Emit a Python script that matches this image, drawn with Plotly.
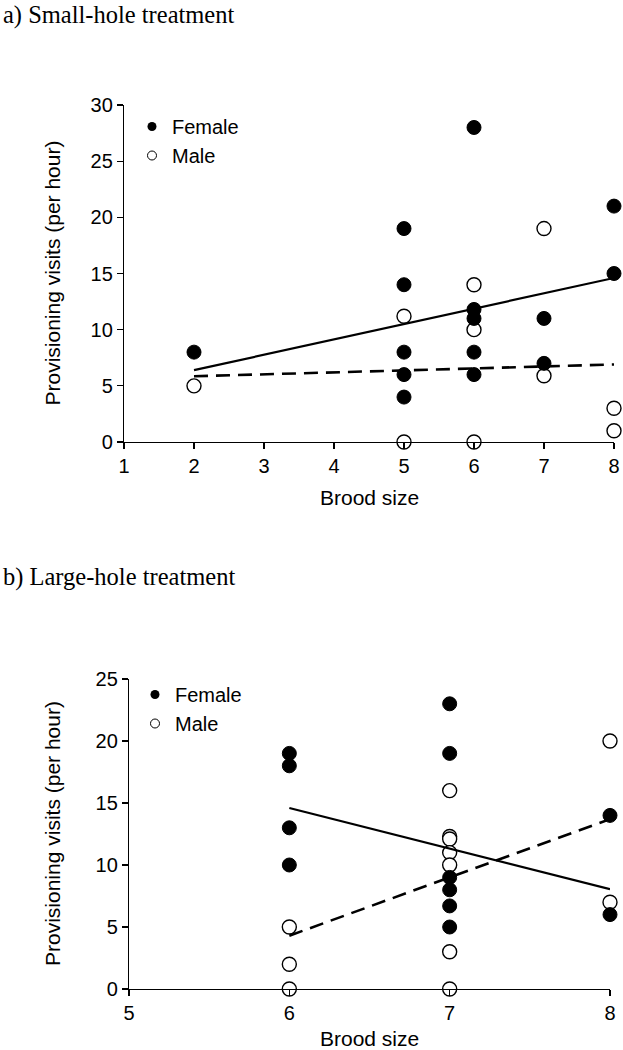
import plotly.graph_objects as go

W, H = 623, 1050

# ---------- Panel a: small-hole treatment ----------
a_female_x = [2, 5, 5, 5, 5, 5, 6, 6, 6, 6, 6, 7, 7, 8, 8]
a_female_y = [8, 19, 14, 8, 6, 4, 28, 11.8, 11, 8, 6, 11, 7, 21, 15]
a_male_x = [2, 5, 5, 6, 6, 6, 7, 7, 8, 8]
a_male_y = [5, 11.2, 0, 14, 10, 0, 19, 5.9, 3, 1]
a_female_fit_x = [2, 8]
a_female_fit_y = [6.4, 14.6]
a_male_fit_x = [2, 8]
a_male_fit_y = [5.85, 6.9]

# ---------- Panel b: large-hole treatment ----------
b_female_x = [6, 6, 6, 6, 7, 7, 7, 7, 7, 7, 8, 8]
b_female_y = [19, 18, 13, 10, 23, 19, 9, 8, 6.7, 5, 14, 6]
b_male_x = [6, 6, 6, 7, 7, 7, 7, 7, 7, 7, 8, 8]
b_male_y = [5, 2, 0, 16, 12.3, 12.1, 11, 10, 3, 0, 20, 7]
b_female_fit_x = [6, 8]
b_female_fit_y = [14.6, 8.05]
b_male_fit_x = [6, 8]
b_male_fit_y = [4.3, 13.7]

panel_titles = ["a) Small-hole treatment", "b) Large-hole treatment"]
y_title = "Provisioning visits (per hour)"
x_title = "Brood size"

SANS = "Arial, Liberation Sans, sans-serif"
SERIF = "Times New Roman, Liberation Serif, serif"
MS = 14

def px_x(p):
    return p / W

def px_y(p):
    return 1 - p / H

fig = go.Figure()

panels = [
    dict(fx=a_female_x, fy=a_female_y, mx=a_male_x, my=a_male_y,
         ffx=a_female_fit_x, ffy=a_female_fit_y, mfx=a_male_fit_x, mfy=a_male_fit_y,
         xa="x", ya="y", legend="legend"),
    dict(fx=b_female_x, fy=b_female_y, mx=b_male_x, my=b_male_y,
         ffx=b_female_fit_x, ffy=b_female_fit_y, mfx=b_male_fit_x, mfy=b_male_fit_y,
         xa="x2", ya="y2", legend="legend2"),
]

for p in panels:
    fig.add_trace(go.Scatter(x=p["mx"], y=p["my"], mode="markers", xaxis=p["xa"], yaxis=p["ya"],
                             marker=dict(size=MS, color="white", line=dict(color="black", width=1.4)),
                             showlegend=False, cliponaxis=False))
    fig.add_trace(go.Scatter(x=p["fx"], y=p["fy"], mode="markers", xaxis=p["xa"], yaxis=p["ya"],
                             marker=dict(size=MS, color="black", line=dict(color="black", width=1)),
                             showlegend=False, cliponaxis=False))
    fig.add_trace(go.Scatter(x=p["ffx"], y=p["ffy"], mode="lines", xaxis=p["xa"], yaxis=p["ya"],
                             line=dict(color="black", width=2.2), showlegend=False, cliponaxis=False))
    fig.add_trace(go.Scatter(x=p["mfx"], y=p["mfy"], mode="lines", xaxis=p["xa"], yaxis=p["ya"],
                             line=dict(color="black", width=2.6, dash="14px,8px"),
                             showlegend=False, cliponaxis=False))
    # legend entries
    fig.add_trace(go.Scatter(x=[None], y=[None], mode="markers", name="Female", xaxis=p["xa"], yaxis=p["ya"],
                             marker=dict(size=9, color="black"), legend=p["legend"]))
    fig.add_trace(go.Scatter(x=[None], y=[None], mode="markers", name="Male", xaxis=p["xa"], yaxis=p["ya"],
                             marker=dict(size=9, color="white", line=dict(color="black", width=1)),
                             legend=p["legend"]))

axis_common = dict(showgrid=False, zeroline=False, showline=True, linecolor="black", linewidth=1.2,
                   ticks="outside", ticklen=6, tickwidth=1.2, tickcolor="black",
                   tickfont=dict(family=SANS, size=20, color="black"), automargin=False, fixedrange=True)

fig.update_layout(
    width=W, height=H,
    margin=dict(l=0, r=0, t=0, b=0),
    paper_bgcolor="white", plot_bgcolor="white",
    xaxis=dict(domain=[px_x(124), px_x(614)], range=[1, 8], dtick=1, anchor="y", **axis_common),
    yaxis=dict(domain=[px_y(442), px_y(105)], range=[0, 30], dtick=5, anchor="x", **axis_common),
    xaxis2=dict(domain=[px_x(129), px_x(610)], range=[5, 8], dtick=1, anchor="y2", **axis_common),
    yaxis2=dict(domain=[px_y(989), px_y(679)], range=[0, 25], dtick=5, anchor="x2", **axis_common),
    legend=dict(x=px_x(132), y=px_y(107), xanchor="left", yanchor="top",
                font=dict(family=SANS, size=20, color="black"), bgcolor="rgba(0,0,0,0)",
                itemwidth=30, tracegroupgap=0),
    legend2=dict(x=px_x(135), y=px_y(675), xanchor="left", yanchor="top",
                 font=dict(family=SANS, size=20, color="black"), bgcolor="rgba(0,0,0,0)",
                 itemwidth=30, tracegroupgap=0),
    showlegend=True,
)

annotations = [
    dict(text=panel_titles[0], x=px_x(1), y=px_y(15), xanchor="left", yanchor="middle",
         font=dict(family=SERIF, size=24.5, color="black")),
    dict(text=panel_titles[1], x=px_x(1), y=px_y(577), xanchor="left", yanchor="middle",
         font=dict(family=SERIF, size=24.5, color="black")),
    dict(text=y_title, x=px_x(52), y=px_y(273.5), textangle=-90, xanchor="center", yanchor="middle",
         font=dict(family=SANS, size=21, color="black")),
    dict(text=y_title, x=px_x(52), y=px_y(834), textangle=-90, xanchor="center", yanchor="middle",
         font=dict(family=SANS, size=21, color="black")),
    dict(text=x_title, x=px_x(369), y=px_y(497), xanchor="center", yanchor="middle",
         font=dict(family=SANS, size=21, color="black")),
    dict(text=x_title, x=px_x(369.5), y=px_y(1038), xanchor="center", yanchor="middle",
         font=dict(family=SANS, size=21, color="black")),
]
for a in annotations:
    a.update(xref="paper", yref="paper", showarrow=False)
fig.update_layout(annotations=annotations)

fig.write_html("out.html",
               config={"displayModeBar": False, "staticPlot": True},
               post_script="document.body.style.margin='0';document.body.style.padding='0';"
                           "document.body.style.overflow='hidden';")
